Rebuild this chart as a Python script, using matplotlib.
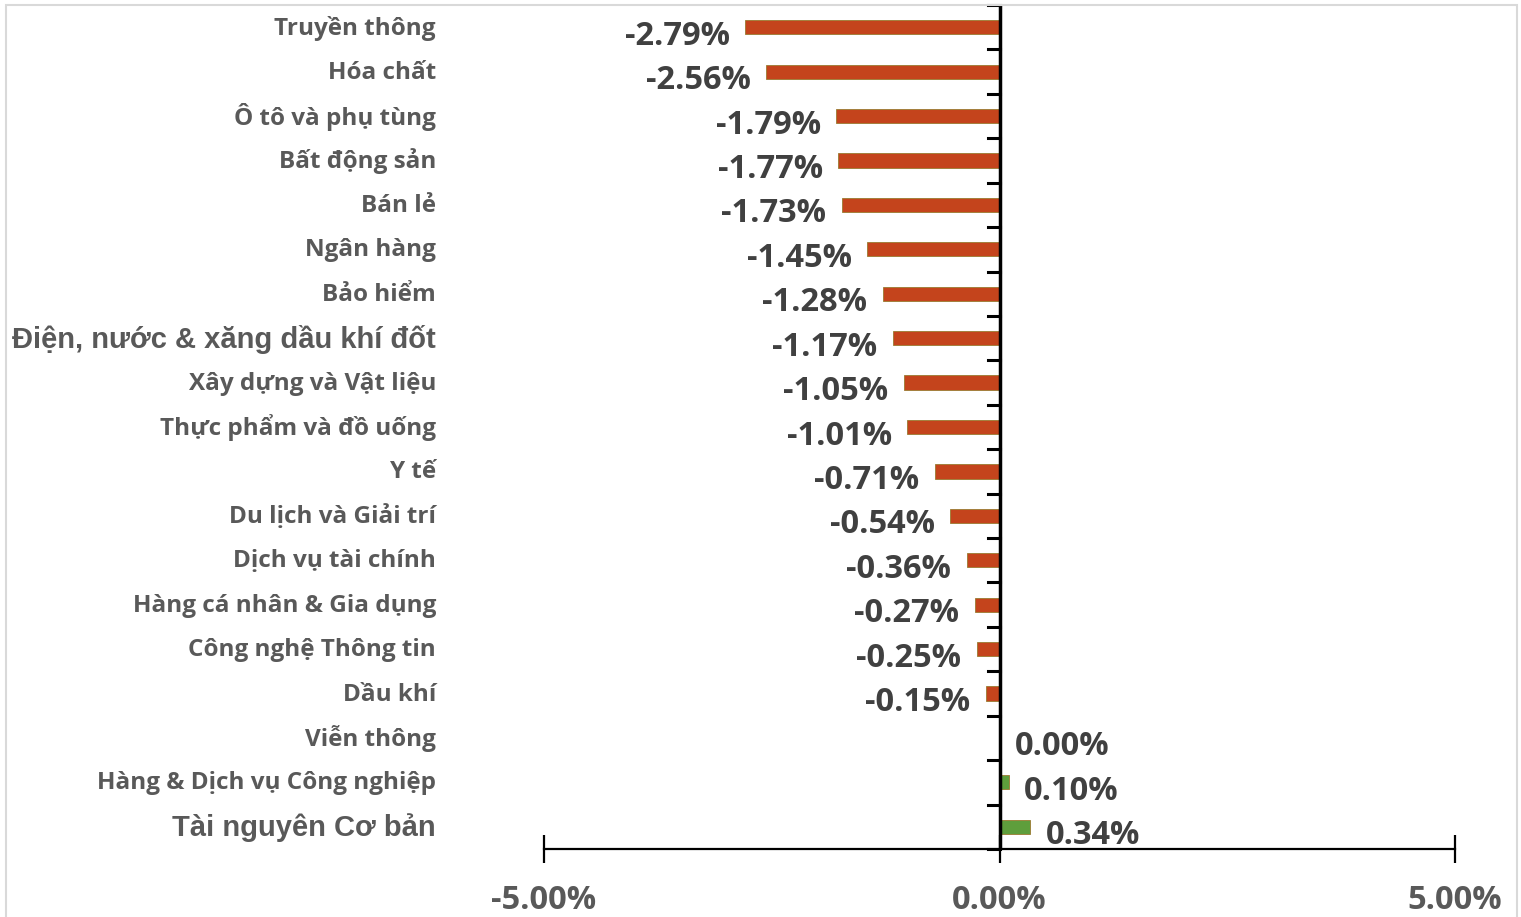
import matplotlib
matplotlib.use('Agg')
import matplotlib.pyplot as plt
import matplotlib.transforms as mtransforms
import numpy as np

# Data
categories = ['Truyền thông', 'Hóa chất', 'Ô tô và phụ tùng', 'Bất động sản', 'Bán lẻ',
              'Ngân hàng', 'Bảo hiểm', 'Điện, nước & xăng dầu khí đốt', 'Xây dựng và Vật liệu',
              'Thực phẩm và đồ uống', 'Y tế', 'Du lịch và Giải trí', 'Dịch vụ tài chính',
              'Hàng cá nhân & Gia dụng', 'Công nghệ Thông tin', 'Dầu khí', 'Viễn thông',
              'Hàng & Dịch vụ Công nghiệp', 'Tài nguyên Cơ bản']
values = [-2.79, -2.56, -1.79, -1.77, -1.73, -1.45, -1.28, -1.17, -1.05, -1.01,
          -0.71, -0.54, -0.36, -0.27, -0.25, -0.15, 0.00, 0.10, 0.34]
x_ticks = [-5, 0, 5]
x_tick_labels = ['-5.00%', '0.00%', '5.00%']
# these two labels are drawn in a different font in the original
arial_labels = ['Điện, nước & xăng dầu khí đốt', 'Tài nguyên Cơ bản']

W, H = 1521, 917
fig = plt.figure(figsize=(W / 100, H / 100), dpi=100)
ax = fig.add_axes([544 / W, 1 - 849 / H, (1455 - 544) / W, (849 - 5) / H])

y = np.arange(len(categories))
colors = ['#C4441C' if v < 0 else '#5E9E3C' for v in values]
ax.barh(y, values, height=0.32, color=colors, edgecolor='#9A7A30', linewidth=0.6, zorder=2)

ax.set_xlim(-5, 5)
ax.set_ylim(len(categories) - 0.5, -0.5)

# axis lines
for s in ['top', 'right', 'left']:
    ax.spines[s].set_visible(False)
ax.spines['bottom'].set_linewidth(1.6)
ax.axvline(0, color='black', lw=2.5, zorder=3)

ax.set_xticks(x_ticks)
ax.set_xticklabels(x_tick_labels)
ax.tick_params(axis='x', direction='inout', length=20, width=1.6, pad=15)
for t in ax.get_xticklabels():
    t.set_fontfamily('Open Sans')
    t.set_fontweight('bold')
    t.set_fontsize(23.5)
    t.set_color('#595959')
ax.set_yticks([])

# small ticks on the zero line between categories
for b in np.arange(-0.5, len(categories) + 0.5, 1):
    ax.plot([-0.13, 0], [b, b], color='black', lw=2.2, zorder=3, clip_on=False)

# data labels
offset = mtransforms.ScaledTranslation(0, -9 / 100, fig.dpi_scale_trans)
for i, v in enumerate(values):
    if v < 0:
        ax.text(v - 0.17, i, f'{v:.2f}%', ha='right', va='center', fontsize=23.5,
                fontweight='bold', family='Open Sans', color='#404040',
                transform=ax.transData + offset)
    else:
        ax.text(v + 0.17, i, f'{v:.2f}%', ha='left', va='center', fontsize=23.5,
                fontweight='bold', family='Open Sans', color='#404040',
                transform=ax.transData + offset)

# category labels, right aligned at a fixed figure x
trans = mtransforms.blended_transform_factory(fig.transFigure, ax.transData)
lab_off = mtransforms.ScaledTranslation(0, -1 / 100, fig.dpi_scale_trans)
for i, c in enumerate(categories):
    if c in arial_labels:
        ax.text(436 / W, i, c, ha='right', va='center', fontsize=21, fontweight='bold',
                family='Liberation Sans', color='#595959', transform=trans + lab_off)
    else:
        ax.text(436 / W, i, c, ha='right', va='center', fontsize=17.5, fontweight='bold',
                family='Open Sans', color='#595959', transform=trans + lab_off)

# light chart border
fig.patches.append(plt.Rectangle((6 / W, -0.01), (1517 - 6) / W, 1 - 5 / H + 0.01,
                                 transform=fig.transFigure, fill=False,
                                 edgecolor='#D9D9D9', lw=1.5))

fig.savefig('out.png', dpi=100)
